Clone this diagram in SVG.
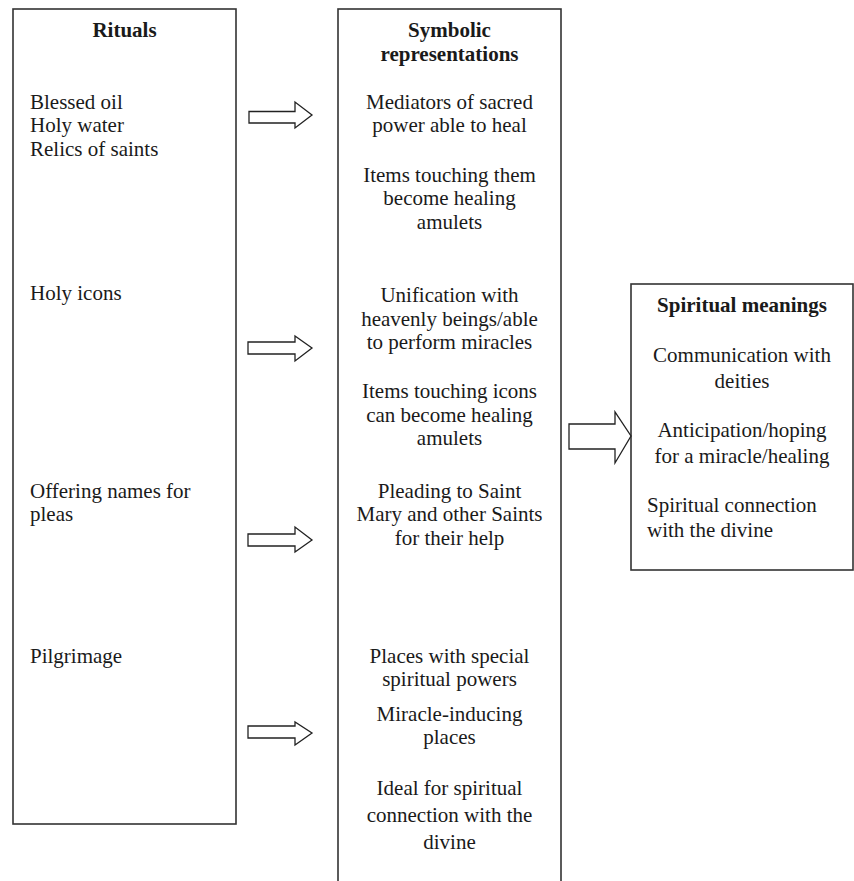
<svg xmlns="http://www.w3.org/2000/svg" width="854" height="881" viewBox="0 0 854 881">
<style>
text{font-family:"Liberation Serif","Times New Roman",serif;font-size:21px;fill:#1a1a1a}
.b{font-weight:bold}
.c{text-anchor:middle}
.box{fill:#fff;stroke:#333;stroke-width:1.6}
.arr{fill:#fff;stroke:#222;stroke-width:1.3;stroke-linejoin:miter}
</style>
<rect width="854" height="881" fill="#fff"/>
<g id="rituals">
<rect class="box" x="13" y="9" width="223" height="815"/>
<text class="b c" x="124.5" y="37">Rituals</text>
<text x="30" y="109">Blessed oil</text>
<text x="30" y="132">Holy water</text>
<text x="30" y="156">Relics of saints</text>
<text x="30" y="300">Holy icons</text>
<text x="30" y="498">Offering names for</text>
<text x="30" y="521">pleas</text>
<text x="30" y="663">Pilgrimage</text>
</g>
<g id="symbolic">
<rect class="box" x="338" y="9" width="223" height="890"/>
<text class="b c" x="449.5" y="37">Symbolic</text>
<text class="b c" x="449.5" y="61">representations</text>
<text class="c" x="449.5" y="109">Mediators of sacred</text>
<text class="c" x="449.5" y="132">power able to heal</text>
<text class="c" x="449.5" y="182">Items touching them</text>
<text class="c" x="449.5" y="205">become healing</text>
<text class="c" x="449.5" y="229">amulets</text>
<text class="c" x="449.5" y="302">Unification with</text>
<text class="c" x="449.5" y="326">heavenly beings/able</text>
<text class="c" x="449.5" y="349">to perform miracles</text>
<text class="c" x="449.5" y="398">Items touching icons</text>
<text class="c" x="449.5" y="422">can become healing</text>
<text class="c" x="449.5" y="445">amulets</text>
<text class="c" x="449.5" y="498">Pleading to Saint</text>
<text class="c" x="449.5" y="521">Mary and other Saints</text>
<text class="c" x="449.5" y="545">for their help</text>
<text class="c" x="449.5" y="663">Places with special</text>
<text class="c" x="449.5" y="686">spiritual powers</text>
<text class="c" x="449.5" y="721">Miracle-inducing</text>
<text class="c" x="449.5" y="744">places</text>
<text class="c" x="449.5" y="795">Ideal for spiritual</text>
<text class="c" x="449.5" y="822">connection with the</text>
<text class="c" x="449.5" y="849">divine</text>
</g>
<g id="spiritual">
<rect class="box" x="631" y="284" width="222" height="286"/>
<text class="b c" x="742" y="312">Spiritual meanings</text>
<text class="c" x="742" y="362">Communication with</text>
<text class="c" x="742" y="388">deities</text>
<text class="c" x="742" y="437">Anticipation/hoping</text>
<text class="c" x="742" y="463">for a miracle/healing</text>
<text x="647" y="512">Spiritual connection</text>
<text x="647" y="537">with the divine</text>
</g>
<g id="connectors">
<polygon class="arr" points="249,111.5 295,111.5 295,102 312,115 295,128 295,123 249,123"/>
<polygon class="arr" points="248,342 295,342 295,336 312,348 295,361 295,354 248,354"/>
<polygon class="arr" points="248,534 295,534 295,527 312,540 295,552 295,546 248,546"/>
<polygon class="arr" points="248,726 295,726 295,722 312,733 295,745 295,738 248,738"/>
<polygon class="arr" points="569,424 615,424 615,412 631,436 615,463 615,449 569,449"/>
</g>
</svg>
